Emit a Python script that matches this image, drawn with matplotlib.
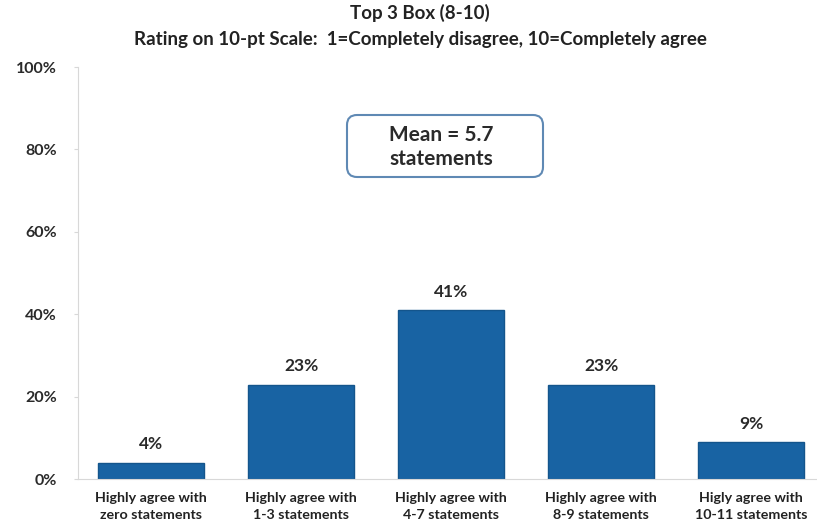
import numpy as np
import matplotlib
matplotlib.use('Agg')
import matplotlib.pyplot as plt
from matplotlib.patches import FancyBboxPatch
from matplotlib.ticker import PercentFormatter

plt.rcParams.update({
    "font.family": ["Lato", "DejaVu Sans"],
    "font.weight": "bold",
})

categories = ['Highly agree with\nzero statements', 'Highly agree with\n1-3 statements',
              'Highly agree with\n4-7 statements', 'Highly agree with\n8-9 statements',
              'Higly agree with\n10-11 statements']
values = [4, 23, 41, 23, 9]
labels = ['4%', '23%', '41%', '23%', '9%']


def main():
    fig = plt.figure(figsize=(8.17, 5.32), dpi=100)
    ax = fig.add_axes([0.095, 0.099, 0.905, 0.775])

    x = np.arange(len(categories))
    bars = ax.bar(x, values, width=0.71, color='#1863a3', edgecolor='#14558c', lw=1.0)
    for b, lab in zip(bars, labels):
        ax.text(b.get_x() + b.get_width() / 2, b.get_height() + 2.6, lab,
                ha='center', va='bottom', fontsize=12.5, fontweight='bold', color='#2a2a2a')

    ax.set_ylim(0, 100)
    ax.set_xlim(-0.49, 4.44)
    ax.set_yticks(np.arange(0, 101, 20))
    ax.yaxis.set_major_formatter(PercentFormatter(decimals=0))
    ax.set_xticks(x)
    ax.set_xticklabels(categories, fontsize=10.3, fontweight='bold', color='#222222',
                       linespacing=1.55)
    ax.tick_params(axis='y', labelsize=11.5, colors='#d8d8d8', labelcolor='#2a2a2a',
                   length=3, pad=12)
    ax.tick_params(axis='x', length=0, pad=9)
    for s in ['top', 'right']:
        ax.spines[s].set_visible(False)
    ax.spines['left'].set_color('#d8d8d8')
    ax.spines['bottom'].set_color('#d8d8d8')

    fig.text(0.514, 0.975, 'Top 3 Box (8-10)', ha='center', va='center',
             fontsize=13.5, fontweight='bold', color='#222222')
    fig.text(0.514, 0.926, 'Rating on 10-pt Scale:  1=Completely disagree, 10=Completely agree',
             ha='center', va='center', fontsize=13.5, fontweight='bold', color='#222222')

    # mean call-out box (pixel coordinates)
    box = FancyBboxPatch((347, 532 - 177), 196, 62, transform=None,
                         boxstyle='round,pad=0,rounding_size=10',
                         fc='white', ec='#5f89b4', lw=1.5, zorder=3)
    fig.patches.append(box)
    fig.text(441 / 817, 1 - 147 / 532, 'Mean = 5.7\nstatements', ha='center', va='center',
             fontsize=15, fontweight='bold', color='#2a2a2a', linespacing=1.25, zorder=4)

    fig.savefig('out.png', dpi=100)
    plt.close(fig)


if __name__ == '__main__':
    main()
